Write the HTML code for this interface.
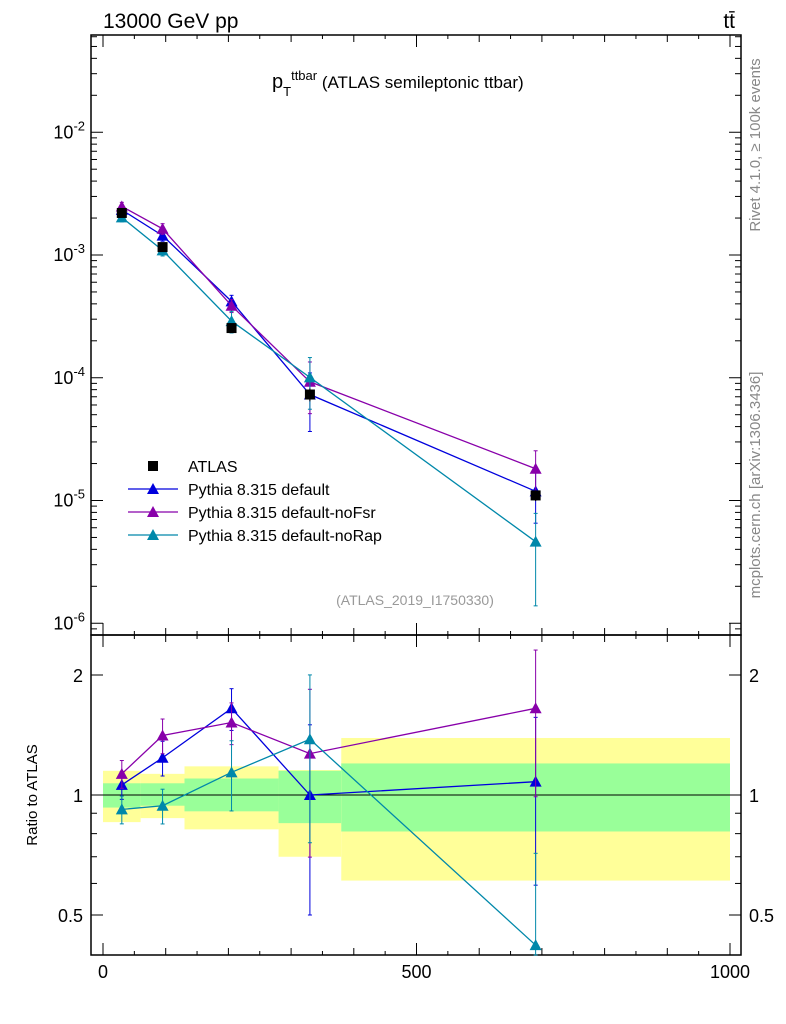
<!DOCTYPE html>
<html><head><meta charset="utf-8"><style>
body{margin:0;background:#fff;font-family:"Liberation Sans",sans-serif}
svg{display:block}
</style></head><body>
<svg id="c" width="786" height="1024" font-family="Liberation Sans, sans-serif"></svg>
<script>
const binEdges=[0,60,130,280,380,1000];
const xCenters=[30,95,205,330,690];
const atlasVals=[2.2e-3,1.16e-3,2.54e-4,7.3e-5,1.1e-5];
const atlasRelErr=[0.06,0.08,0.06,0.12,0.1];
const ratioDefault=[1.06,1.24,1.65,1.0,1.08];
const ratioNoFsr=[1.13,1.41,1.52,1.27,1.65];
const ratioNoRap=[0.92,0.94,1.14,1.38,0.42];
const errDefault=[0.08,0.1,0.12,0.5,0.45];
const errNoFsr=[0.08,0.1,0.12,0.45,0.4];
const errNoRap=[0.08,0.1,0.2,0.45,0.7];
const bandTotHi=[1.15,1.13,1.18,1.155,1.39];
const bandTotLo=[0.855,0.875,0.82,0.70,0.61];
const bandStatHi=[1.07,1.07,1.10,1.15,1.2];
const bandStatLo=[0.93,0.94,0.91,0.85,0.81];
const yTickExp=[-6,-5,-4,-3,-2];
const xTickLabels=[0,500,1000];

const S=document.getElementById('c');const NS='http://www.w3.org/2000/svg';
function el(t,a,name,p){const e=document.createElementNS(NS,t);for(const k in a)e.setAttribute(k,a[k]);


(p||S).appendChild(e);return e;}
const L=91,R=741,T=35,M=635,B=955;
const X=v=>103+v*0.627;
const Y=v=>255-(Math.log10(v)+3)*122.75;
const YR=r=>795-Math.log2(r)*120;
for(let i=0;i<5;i++){
 el('rect',{x:X(binEdges[i]),y:YR(bandTotHi[i]),width:X(binEdges[i+1])-X(binEdges[i]),height:YR(bandTotLo[i])-YR(bandTotHi[i]),fill:'#ffff99'},'total-uncertainty-band');
 el('rect',{x:X(binEdges[i]),y:YR(bandStatHi[i]),width:X(binEdges[i+1])-X(binEdges[i]),height:YR(bandStatLo[i])-YR(bandStatHi[i]),fill:'#99ff99'},'stat-uncertainty-band');
}
el('line',{x1:L,x2:R,y1:YR(1),y2:YR(1),stroke:'#000'},'ratio-unity-line');
el('rect',{x:L,y:T,width:R-L,height:M-T,fill:'none',stroke:'#000','stroke-width':1.5},'main-frame');
el('rect',{x:L,y:M,width:R-L,height:B-M,fill:'none',stroke:'#000','stroke-width':1.5},'ratio-frame');
for(let e=-7;e<=-1;e++)for(let m=1;m<10;m++){const v=m*Math.pow(10,e);const y=Y(v);if(y<T||y>M)continue;const len=m==1?12:6;
 el('line',{x1:L,x2:L+len,y1:y,y2:y,stroke:'#000'},'y-tick');el('line',{x1:R,x2:R-len,y1:y,y2:y,stroke:'#000'},'y-tick');}
yTickExp.forEach(e=>{const t=el('text',{x:L-6,y:Y(Math.pow(10,e))+6,'text-anchor':'end','font-size':18},'y-tick-label');t.innerHTML='10<tspan dy="-8" font-size="13">'+e+'</tspan>';});
[0.5,0.6,0.7,0.8,0.9,1,2].forEach(r=>{const y=YR(r);const len=(r==0.5||r==1||r==2)?12:6;
 el('line',{x1:L,x2:L+len,y1:y,y2:y,stroke:'#000'},'ratio-tick');el('line',{x1:R,x2:R-len,y1:y,y2:y,stroke:'#000'},'ratio-tick');});
[[0.5,'0.5'],[1,'1'],[2,'2']].forEach(([r,s])=>{el('text',{x:L-8,y:YR(r)+7,'text-anchor':'end','font-size':18},'ratio-tick-label').textContent=s;
 el('text',{x:R+8,y:YR(r)+7,'font-size':18},'ratio-tick-label-right').textContent=s;});
for(let v=0;v<=1000;v+=50){const len=v%500==0?12:(v%100==0?7:4);
 [[M,1],[B,-1],[T,1],[M,-1]].forEach(([y0,d])=>el('line',{x1:X(v),x2:X(v),y1:y0,y2:y0+d*len,stroke:'#000'},'x-tick'));}
xTickLabels.forEach(v=>el('text',{x:X(v),y:978,'text-anchor':'middle','font-size':18},'x-tick-label').textContent=v);
el('text',{x:103,y:28,'font-size':21},'energy-label').textContent='13000 GeV pp';
el('text',{x:735,y:28,'font-size':21,'text-anchor':'end'},'process-label').textContent='tt̄';
const tt=el('text',{x:272,y:88,'font-size':20},'plot-title');tt.innerHTML='p<tspan dy="8" font-size="13">T</tspan><tspan dy="-16" font-size="13">ttbar</tspan><tspan dy="8" font-size="17"> (ATLAS semileptonic ttbar)</tspan>';
el('text',{x:415,y:605,'font-size':14,fill:'#999','text-anchor':'middle'},'analysis-id').textContent='(ATLAS_2019_I1750330)';
el('text',{transform:'translate(760,145) rotate(-90)','font-size':15,fill:'#888','text-anchor':'middle'},'rivet-version').textContent='Rivet 4.1.0, ≥ 100k events';
el('text',{transform:'translate(760,485) rotate(-90)','font-size':15,fill:'#888','text-anchor':'middle'},'mcplots-url').textContent='mcplots.cern.ch [arXiv:1306.3436]';
el('text',{transform:'translate(37,795) rotate(-90)','font-size':15,'text-anchor':'middle'},'ratio-axis-title').textContent='Ratio to ATLAS';
function tri(x,y,c,n){el('polygon',{points:`${x},${y-6} ${x-6},${y+5} ${x+6},${y+5}`,fill:c},n);}
const series=[['default','#0000dd',ratioDefault,errDefault],['noFsr','#8800aa',ratioNoFsr,errNoFsr],['noRap','#0088aa',ratioNoRap,errNoRap]];
series.forEach(([nm,c,rat,err])=>{
 const vals=rat.map((r,i)=>r*atlasVals[i]);
 el('polyline',{points:xCenters.map((x,i)=>X(x)+','+Y(vals[i])).join(' '),fill:'none',stroke:c,'stroke-width':1.3},'line-'+nm);
 el('polyline',{points:xCenters.map((x,i)=>X(x)+','+YR(rat[i])).join(' '),fill:'none',stroke:c,'stroke-width':1.3},'ratio-line-'+nm);
 xCenters.forEach((x,i)=>{const px=X(x);
  const lo=Math.max(vals[i]*(1-err[i]),1e-7),hi=vals[i]*(1+err[i]);
  el('line',{x1:px,x2:px,y1:Y(lo),y2:Y(hi),stroke:c},'errbar-'+nm);
  [Y(lo),Y(hi)].forEach(y=>el('line',{x1:px-2,x2:px+2,y1:y,y2:y,stroke:c},'errcap-'+nm));
  tri(px,Y(vals[i]),c,'point-'+nm);
  const rl=Math.max(rat[i]*(1-err[i]),0.3),rh=rat[i]*(1+err[i]);
  el('line',{x1:px,x2:px,y1:Math.min(YR(rl),B),y2:YR(rh),stroke:c},'ratio-errbar-'+nm);
  [Math.min(YR(rl),B),YR(rh)].forEach(y=>el('line',{x1:px-2,x2:px+2,y1:y,y2:y,stroke:c},'ratio-errcap-'+nm));
  tri(px,YR(rat[i]),c,'ratio-point-'+nm);
 });
});
xCenters.forEach((x,i)=>{const px=X(x);
 el('line',{x1:px,x2:px,y1:Y(atlasVals[i]*(1-atlasRelErr[i])),y2:Y(atlasVals[i]*(1+atlasRelErr[i])),stroke:'#000'},'atlas-errbar');
 el('rect',{x:px-5,y:Y(atlasVals[i])-5,width:10,height:10,fill:'#000'},'atlas-point');});
const lg=[['ATLAS',null],['Pythia 8.315 default','#0000dd'],['Pythia 8.315 default-noFsr','#8800aa'],['Pythia 8.315 default-noRap','#0088aa']];
lg.forEach(([t,c],i)=>{const y=466+i*23;
 if(c){el('line',{x1:128,x2:178,y1:y,y2:y,stroke:c,'stroke-width':1.3},'legend-line');tri(153,y,c,'legend-marker');}
 else el('rect',{x:148,y:y-5,width:10,height:10,fill:'#000'},'legend-marker');
 el('text',{x:188,y:y+6,'font-size':16},'legend-entry').textContent=t;});
</script>
</body></html>
